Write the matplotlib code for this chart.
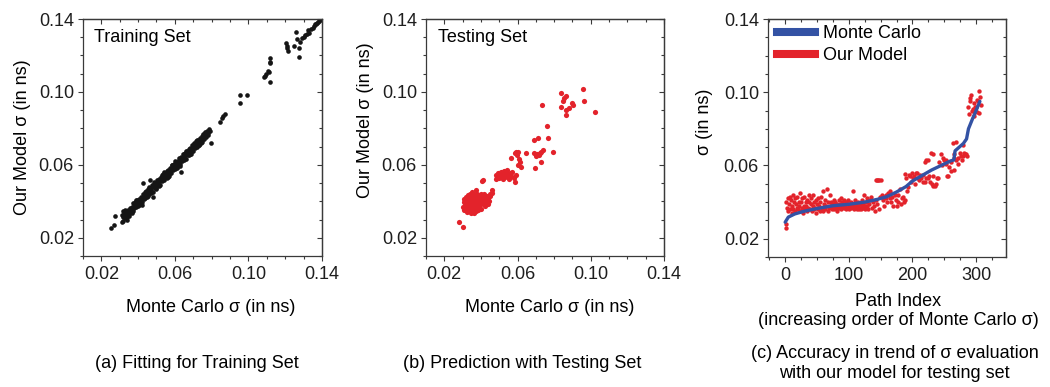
import numpy as np
import matplotlib
matplotlib.use('Agg')
import matplotlib.pyplot as plt
from matplotlib.ticker import MultipleLocator, FormatStrFormatter
from matplotlib.lines import Line2D

plt.rcParams['font.family'] = ['Liberation Sans', 'DejaVu Sans']
plt.rcParams['font.size'] = 13

# (a) training set: Monte Carlo sigma vs model sigma (ns)
train_mc = [
    0.0315, 0.0325, 0.0335, 0.0345, 0.0355, 0.0365, 0.0375, 0.0385, 0.0395, 0.0405, 0.0415, 0.0425,
    0.0435, 0.0445, 0.0455, 0.0465, 0.0475, 0.0485, 0.0495, 0.0505, 0.0515, 0.0525, 0.0535, 0.0545,
    0.0555, 0.0565, 0.0575, 0.0585, 0.0595, 0.0605, 0.0615, 0.0625, 0.0635, 0.0645, 0.0655, 0.0665,
    0.0675, 0.0685, 0.0695, 0.0705, 0.0715, 0.0725, 0.0735, 0.0745, 0.0755, 0.0765, 0.0775, 0.0785,
    0.0320, 0.0330, 0.0340, 0.0350, 0.0360, 0.0370, 0.0380, 0.0390, 0.0400, 0.0410, 0.0420, 0.0430,
    0.0440, 0.0450, 0.0460, 0.0470, 0.0480, 0.0490, 0.0500, 0.0510, 0.0520, 0.0530, 0.0540, 0.0550,
    0.0560, 0.0570, 0.0580, 0.0590, 0.0600, 0.0610, 0.0620, 0.0630, 0.0640, 0.0650, 0.0660, 0.0670,
    0.0680, 0.0690, 0.0700, 0.0710, 0.0720, 0.0730, 0.0740, 0.0750, 0.0760, 0.0770, 0.0780, 0.0790,
    0.0310, 0.0320, 0.0330, 0.0340, 0.0350, 0.0360, 0.0370, 0.0380, 0.0390, 0.0400, 0.0410, 0.0420,
    0.0430, 0.0440, 0.0450, 0.0460, 0.0470, 0.0480, 0.0490, 0.0500, 0.0510, 0.0520, 0.0530, 0.0540,
    0.0550, 0.0560, 0.0570, 0.0580, 0.0590, 0.0600, 0.0610, 0.0620, 0.0630, 0.0640, 0.0650, 0.0660,
    0.0670, 0.0680, 0.0690, 0.0700, 0.0710, 0.0720, 0.0730, 0.0740, 0.0750, 0.0760, 0.0770, 0.0780,
    0.0330, 0.0365, 0.0390, 0.0420, 0.0460, 0.0500, 0.0540, 0.0570, 0.0600, 0.0630, 0.0660, 0.0690,
    0.0720, 0.0750, 0.0340, 0.0318, 0.0325, 0.0352, 0.0372, 0.0405, 0.0437, 0.0452, 0.0488, 0.0512,
    0.0528, 0.0556, 0.0582, 0.0611, 0.0648, 0.0677, 0.0702, 0.0733, 0.0762,
    0.0254, 0.0267, 0.0276, 0.0426, 0.0463, 0.0480, 0.0635, 0.0798,
    0.0845, 0.0854, 0.0863, 0.0872, 0.0954, 0.0990, 0.0954,
    0.1086, 0.1090, 0.1098, 0.1108, 0.1112, 0.1117, 0.1117, 0.1120, 0.1117,
    0.1204, 0.1210, 0.1217, 0.1212,
    0.1250, 0.1260, 0.1262, 0.1273, 0.1277, 0.1280, 0.1290, 0.1300, 0.1310, 0.1317, 0.1326, 0.1330,
    0.1340, 0.1350, 0.1355, 0.1362, 0.1368, 0.1375, 0.1380, 0.1385, 0.1392, 0.1398,
]
train_model = [
    0.0325, 0.0331, 0.0348, 0.0353, 0.0366, 0.0370, 0.0387, 0.0394, 0.0409, 0.0412, 0.0425, 0.0438,
    0.0441, 0.0456, 0.0470, 0.0473, 0.0487, 0.0495, 0.0502, 0.0518, 0.0524, 0.0536, 0.0549, 0.0553,
    0.0567, 0.0571, 0.0585, 0.0598, 0.0604, 0.0616, 0.0622, 0.0637, 0.0645, 0.0659, 0.0663, 0.0676,
    0.0688, 0.0694, 0.0707, 0.0715, 0.0729, 0.0736, 0.0748, 0.0760, 0.0767, 0.0779, 0.0788, 0.0795,
    0.0314, 0.0321, 0.0336, 0.0342, 0.0357, 0.0363, 0.0370, 0.0385, 0.0392, 0.0408, 0.0414, 0.0421,
    0.0436, 0.0443, 0.0455, 0.0460, 0.0477, 0.0482, 0.0494, 0.0506, 0.0511, 0.0525, 0.0533, 0.0547,
    0.0552, 0.0564, 0.0570, 0.0586, 0.0593, 0.0605, 0.0612, 0.0627, 0.0634, 0.0641, 0.0656, 0.0663,
    0.0678, 0.0685, 0.0692, 0.0706, 0.0714, 0.0727, 0.0735, 0.0748, 0.0756, 0.0769, 0.0777, 0.0788,
    0.0288, 0.0294, 0.0311, 0.0316, 0.0322, 0.0340, 0.0345, 0.0362, 0.0367, 0.0373, 0.0389, 0.0394,
    0.0411, 0.0416, 0.0421, 0.0440, 0.0447, 0.0453, 0.0472, 0.0475, 0.0488, 0.0492, 0.0510, 0.0516,
    0.0531, 0.0534, 0.0549, 0.0555, 0.0572, 0.0577, 0.0583, 0.0600, 0.0606, 0.0621, 0.0628, 0.0634,
    0.0652, 0.0657, 0.0670, 0.0675, 0.0693, 0.0698, 0.0711, 0.0719, 0.0734, 0.0740, 0.0752, 0.0763,
    0.0355, 0.0335, 0.0405, 0.0380, 0.0478, 0.0470, 0.0560, 0.0540, 0.0620, 0.0592, 0.0678, 0.0660,
    0.0738, 0.0725, 0.0300, 0.0345, 0.0340, 0.0328, 0.0392, 0.0380, 0.0452, 0.0427, 0.0505, 0.0482,
    0.0545, 0.0530, 0.0598, 0.0586, 0.0662, 0.0655, 0.0718, 0.0708, 0.0775,
    0.0252, 0.0270, 0.0320, 0.0502, 0.0517, 0.0425, 0.0562, 0.0718,
    0.0833, 0.0855, 0.0866, 0.0877, 0.0983, 0.0983, 0.0938,
    0.1083, 0.1090, 0.1100, 0.1115, 0.1108, 0.1157, 0.1185, 0.1162, 0.1056,
    0.1267, 0.1240, 0.1225, 0.1250,
    0.1250, 0.1330, 0.1290, 0.1240, 0.1190, 0.1276, 0.1295, 0.1300, 0.1310, 0.1320, 0.1340, 0.1325,
    0.1345, 0.1350, 0.1362, 0.1370, 0.1372, 0.1380, 0.1385, 0.1390, 0.1395, 0.1398,
]

# (b) testing set
test_mc = [
    0.0300, 0.0305, 0.0308, 0.0310, 0.0312, 0.0315, 0.0318, 0.0320, 0.0322, 0.0325, 0.0326, 0.0328,
    0.0330, 0.0332, 0.0333, 0.0335, 0.0337, 0.0338, 0.0340, 0.0341, 0.0343, 0.0345, 0.0346, 0.0347,
    0.0349, 0.0350, 0.0352, 0.0353, 0.0355, 0.0356, 0.0358, 0.0359, 0.0360, 0.0362, 0.0363, 0.0365,
    0.0366, 0.0368, 0.0370, 0.0371, 0.0373, 0.0375, 0.0376, 0.0378, 0.0380, 0.0382, 0.0384, 0.0386,
    0.0388, 0.0390, 0.0392, 0.0395, 0.0398, 0.0400, 0.0403, 0.0405, 0.0408, 0.0412, 0.0415, 0.0418,
    0.0420, 0.0425, 0.0428, 0.0432, 0.0436, 0.0440, 0.0445, 0.0448, 0.0452, 0.0458, 0.0462,
    0.0282, 0.0300, 0.0410, 0.0405,
    0.0480, 0.0485, 0.0490, 0.0495, 0.0500, 0.0505, 0.0510, 0.0515, 0.0520, 0.0525, 0.0528, 0.0532,
    0.0535, 0.0540, 0.0545, 0.0550, 0.0555, 0.0560, 0.0565, 0.0572, 0.0580, 0.0588, 0.0590,
    0.0564, 0.0588, 0.0591, 0.0595, 0.0600, 0.0605, 0.0613, 0.0619, 0.0610, 0.0646,
    0.0692, 0.0710, 0.0700, 0.0692, 0.0705, 0.0715, 0.0720, 0.0728, 0.0737, 0.0728, 0.0697, 0.0764,
    0.0795, 0.0759, 0.0733,
    0.0837, 0.0855, 0.0864, 0.0837, 0.0864, 0.0883, 0.0864, 0.0896, 0.0904, 0.0959, 0.0965, 0.1023,
    0.0850,
]
test_model = [
    0.0370, 0.0395, 0.0415, 0.0350, 0.0380, 0.0405, 0.0425, 0.0360, 0.0390, 0.0340, 0.0415, 0.0375,
    0.0400, 0.0435, 0.0355, 0.0385, 0.0420, 0.0345, 0.0405, 0.0370, 0.0440, 0.0390, 0.0335, 0.0415,
    0.0360, 0.0430, 0.0380, 0.0450, 0.0400, 0.0345, 0.0420, 0.0370, 0.0440, 0.0390, 0.0335, 0.0410,
    0.0355, 0.0430, 0.0380, 0.0460, 0.0400, 0.0345, 0.0420, 0.0365, 0.0440, 0.0390, 0.0410, 0.0355,
    0.0430, 0.0375, 0.0400, 0.0420, 0.0385, 0.0440, 0.0360, 0.0405, 0.0425, 0.0390, 0.0410, 0.0440,
    0.0375, 0.0415, 0.0400, 0.0430, 0.0385, 0.0420, 0.0400, 0.0440, 0.0430, 0.0445, 0.0460,
    0.0288, 0.0257, 0.0517, 0.0512,
    0.0525, 0.0545, 0.0535, 0.0555, 0.0530, 0.0545, 0.0560, 0.0540, 0.0525, 0.0550, 0.0565, 0.0535,
    0.0555, 0.0545, 0.0570, 0.0540, 0.0525, 0.0555, 0.0540, 0.0560, 0.0530, 0.0508, 0.0545,
    0.0639, 0.0663, 0.0672, 0.0655, 0.0670, 0.0600, 0.0617, 0.0589, 0.0630, 0.0663,
    0.0736, 0.0745, 0.0650, 0.0663, 0.0660, 0.0655, 0.0665, 0.0672, 0.0681, 0.0617, 0.0584, 0.0745,
    0.0672, 0.0815, 0.0928,
    0.0994, 0.0965, 0.0980, 0.0916, 0.0899, 0.0912, 0.0876, 0.0938, 0.0927, 0.1014, 0.0950, 0.0891,
    0.0950,
]

# (c) Monte Carlo curve (sorted) and model values by path index
mc_index = [0, 5, 15, 30, 50, 75, 100, 125, 145, 160, 175, 190, 200, 215, 230, 245, 260, 265,
            267, 280, 285, 288, 295, 300, 306]
mc_sigma = [0.0290, 0.0318, 0.0335, 0.0350, 0.0365, 0.0380, 0.0388, 0.0400, 0.0415, 0.0430,
            0.0455, 0.0485, 0.0515, 0.0545, 0.0575, 0.0600, 0.0625, 0.0630,
            0.0680, 0.0720, 0.0745, 0.0800, 0.0860, 0.0900, 0.0950]

path_idx = [
    1, 2, 2, 3, 4, 5, 6, 7, 8, 9, 10,
    11, 12, 13, 14, 15, 16, 17, 18, 19, 20,
    21, 22, 23, 24, 25, 26, 27, 28, 29, 30,
    31, 32, 33, 34, 35, 36, 37, 38, 39, 40,
    41, 42, 43, 44, 45, 46, 47, 48, 49, 50,
    51, 52, 53, 54, 55, 57, 58, 59, 60,
    61, 62, 63, 64, 66, 67, 68, 69, 70,
    71, 72, 73, 74, 75, 76, 77, 78, 79, 80,
    81, 82, 83, 84, 85, 86, 87, 88, 89, 90,
    91, 92, 93, 94, 95, 96, 97, 98, 99, 100,
    101, 102, 103, 104, 105, 106, 107, 108, 109, 110,
    111, 112, 113, 114, 115, 116, 117, 118, 119, 120,
    121, 122, 123, 124, 125, 126, 127, 128, 129, 130,
    132, 134, 135, 136, 138, 140, 141,
    142, 144, 146, 148, 150, 143, 145, 147, 149, 152, 153, 154, 156, 158, 159, 160,
    162, 164, 165, 167, 168, 170, 172, 174, 175, 177, 178, 180, 182, 183, 185, 186, 188, 188,
    190, 191, 193, 195,
    196, 198, 199, 201, 203, 204, 205, 207, 209, 211, 212, 214, 216, 217, 219, 219, 221, 222,
    224, 224, 226, 228, 229, 230, 232, 232, 233, 235, 237, 238, 240,
    242, 245, 246, 248, 250, 252, 253, 255, 256, 258, 260, 261, 263, 265, 266, 266, 268, 269,
    271, 272, 274, 276, 278, 279, 279, 281, 282, 284, 285,
    287, 289, 290, 291, 292, 293, 295, 296, 297, 298, 300, 301, 302, 303, 304, 305, 306, 307,
]
path_model = [
    0.026, 0.028, 0.040, 0.037, 0.042, 0.035, 0.039, 0.043, 0.036, 0.041, 0.034,
    0.038, 0.044, 0.036, 0.040, 0.042, 0.035, 0.039, 0.037, 0.043, 0.036,
    0.040, 0.038, 0.045, 0.035, 0.040, 0.037, 0.042, 0.034, 0.043, 0.038,
    0.036, 0.040, 0.038, 0.035, 0.041, 0.037, 0.044, 0.040, 0.036, 0.039,
    0.042, 0.035, 0.044, 0.038, 0.036, 0.040, 0.037, 0.041, 0.034, 0.039,
    0.036, 0.042, 0.038, 0.035, 0.040, 0.043, 0.037, 0.046, 0.035,
    0.039, 0.036, 0.041, 0.038, 0.047, 0.035, 0.040, 0.037, 0.044,
    0.038, 0.040, 0.036, 0.039, 0.037, 0.041, 0.036, 0.038, 0.040, 0.037,
    0.039, 0.035, 0.038, 0.041, 0.037, 0.039, 0.042, 0.036, 0.038, 0.040,
    0.039, 0.037, 0.041, 0.038, 0.036, 0.040, 0.037, 0.039, 0.041, 0.038,
    0.036, 0.039, 0.037, 0.040, 0.038, 0.046, 0.039, 0.036, 0.038, 0.041,
    0.037, 0.039, 0.036, 0.040, 0.038, 0.036, 0.039, 0.037, 0.036, 0.038,
    0.041, 0.037, 0.039, 0.044, 0.038, 0.036, 0.040, 0.042, 0.038, 0.036,
    0.039, 0.041, 0.043, 0.037, 0.040, 0.038, 0.035,
    0.052, 0.052, 0.052, 0.052, 0.052, 0.041, 0.039, 0.036, 0.043, 0.044, 0.041, 0.043, 0.038,
    0.042, 0.044, 0.040,
    0.045, 0.042, 0.046, 0.040, 0.043, 0.038, 0.044, 0.041, 0.038, 0.044, 0.040, 0.047, 0.039,
    0.042, 0.043, 0.040, 0.041, 0.0556,
    0.053, 0.046, 0.048, 0.055,
    0.054, 0.051, 0.056, 0.053, 0.054, 0.050, 0.056, 0.056, 0.053, 0.052, 0.055, 0.053, 0.055,
    0.051, 0.051, 0.062, 0.053, 0.063,
    0.053, 0.063, 0.054, 0.051, 0.067, 0.050, 0.066, 0.054, 0.049, 0.049, 0.050, 0.053, 0.053,
    0.062, 0.066, 0.060, 0.064, 0.063, 0.061, 0.063, 0.054, 0.054, 0.059, 0.062, 0.057, 0.072,
    0.064, 0.066, 0.0575, 0.073, 0.063,
    0.061, 0.064, 0.067, 0.065, 0.063, 0.065, 0.071, 0.067, 0.066, 0.066, 0.065,
    0.092, 0.088, 0.095, 0.097, 0.0985, 0.090, 0.091, 0.087, 0.094, 0.092, 0.092, 0.096, 0.089,
    0.095, 0.0885, 0.1006, 0.0975, 0.093,
]

red = '#e3232b'
blue = '#3352a4'
spine_col = '#3a3a3a'


def style_axes(ax, xlim, xmajor, xminor):
    ax.set_xlim(*xlim)
    ax.set_ylim(0.01, 0.14)
    ax.set_xticks(xmajor)
    ax.set_yticks([0.02, 0.06, 0.10, 0.14])
    ax.xaxis.set_minor_locator(MultipleLocator(xminor))
    ax.yaxis.set_minor_locator(MultipleLocator(0.01))
    ax.yaxis.set_major_formatter(FormatStrFormatter('%.2f'))
    for sp in ax.spines.values():
        sp.set_color(spine_col)
        sp.set_linewidth(0.9)
    ax.tick_params(which='both', direction='out', color=spine_col, width=0.8,
                   labelcolor='#1e1e1e', labelsize=13)
    ax.tick_params(which='major', length=3.5)
    ax.tick_params(which='minor', length=2.2)
    ax.tick_params(axis='x', pad=4)
    ax.tick_params(axis='y', pad=3)
    # mirrored ticks pointing in on top and right
    top = ax.secondary_xaxis('top')
    top.set_xticks(xmajor)
    top.xaxis.set_minor_locator(MultipleLocator(xminor))
    top.tick_params(which='both', direction='in', labeltop=False, color=spine_col, width=0.8)
    top.tick_params(which='major', length=3.5)
    top.tick_params(which='minor', length=2.2)
    right = ax.secondary_yaxis('right')
    right.set_yticks([0.02, 0.06, 0.10, 0.14])
    right.yaxis.set_minor_locator(MultipleLocator(0.01))
    right.tick_params(which='both', direction='in', labelright=False, color=spine_col, width=0.8)
    right.tick_params(which='major', length=3.5)
    right.tick_params(which='minor', length=2.2)
    for sec in (top, right):
        for sp in sec.spines.values():
            sp.set_color(spine_col)
            sp.set_linewidth(0.9)


fig = plt.figure(figsize=(10.5, 3.87), dpi=100)
ax_a = fig.add_axes([0.0790, 0.3385, 0.2276, 0.6124])
ax_b = fig.add_axes([0.4057, 0.3385, 0.2267, 0.6124])
ax_c = fig.add_axes([0.7314, 0.3359, 0.2267, 0.6150])

# (a)
ax_a.scatter(train_mc, train_model, s=11, color='#151515', linewidths=0)
style_axes(ax_a, (0.01, 0.14), [0.02, 0.06, 0.10, 0.14], 0.01)
ax_a.xaxis.set_major_formatter(FormatStrFormatter('%.2f'))
ax_a.text(0.046, 0.92, 'Training Set', transform=ax_a.transAxes, va='center', ha='left')
ax_a.set_xlabel('Monte Carlo σ (in ns)', va='center')
ax_a.xaxis.set_label_coords(0.536, -0.219)
ax_a.set_ylabel('Our Model σ (in ns)', va='center')
ax_a.yaxis.set_label_coords(-0.255, 0.502)

# (b)
ax_b.scatter(test_mc, test_model, s=14, color=red, linewidths=0)
style_axes(ax_b, (0.01, 0.14), [0.02, 0.06, 0.10, 0.14], 0.01)
ax_b.xaxis.set_major_formatter(FormatStrFormatter('%.2f'))
ax_b.text(0.05, 0.92, 'Testing Set', transform=ax_b.transAxes, va='center', ha='left')
ax_b.set_xlabel('Monte Carlo σ (in ns)', va='center')
ax_b.xaxis.set_label_coords(0.521, -0.219)
ax_b.set_ylabel('Our Model σ (in ns)', va='center')
ax_b.yaxis.set_label_coords(-0.256, 0.574)

# (c)
ax_c.scatter(path_idx, path_model, s=10, color=red, linewidths=0, zorder=2)
ax_c.plot(mc_index, mc_sigma, color=blue, lw=2.4, solid_capstyle='round', zorder=3)
style_axes(ax_c, (-27, 347), [0, 100, 200, 300], 25)
ax_c.set_xlabel('Path Index\n(increasing order of Monte Carlo σ)', va='center', linespacing=1.15)
ax_c.xaxis.set_label_coords(0.546, -0.227)
ax_c.set_ylabel('σ (in ns)', va='center')
ax_c.yaxis.set_label_coords(-0.265, 0.567)
handles = [Line2D([], [], color=blue, lw=5.8), Line2D([], [], color=red, lw=5.8)]
ax_c.legend(handles, ['Monte Carlo', 'Our Model'], loc='upper left', bbox_to_anchor=(0.04, 0.975),
            frameon=False, handlelength=2.1, handletextpad=0.4, borderpad=0, borderaxespad=0,
            labelspacing=0.3)

# captions
fig.text(0.1876, 0.062, '(a) Fitting for Training Set', ha='center', va='center', fontsize=13)
fig.text(0.497, 0.062, '(b) Prediction with Testing Set', ha='center', va='center', fontsize=13)
fig.text(0.852, 0.061, '(c) Accuracy in trend of σ evaluation\nwith our model for testing set',
         ha='center', va='center', fontsize=13, linespacing=1.25)

fig.savefig('out.png', dpi=100)
